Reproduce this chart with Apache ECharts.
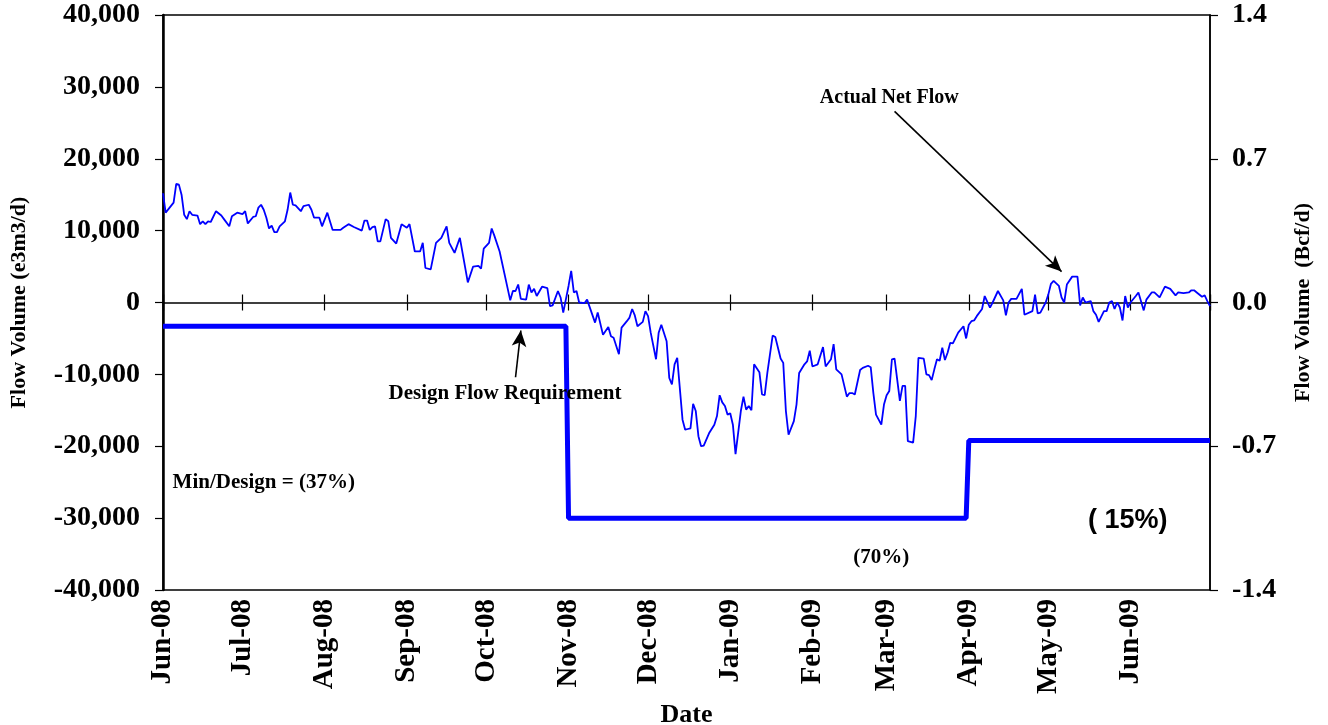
<!DOCTYPE html>
<html>
<head>
<meta charset="utf-8">
<script src="https://cdn.jsdelivr.net/npm/echarts@6/dist/echarts.min.js"></script>
<style>
    html, body { margin: 0; padding: 0; background: #ffffff; }
    #main { width: 1328px; height: 725px; }
</style>
</head>
<body>
<div id="main"></div>
<script>
// actual net flow, e3m3/d - day = days after 1 Jun 2008
var flowDay = [0, 1, 4, 5, 6, 7, 8, 9, 10, 11, 13, 14, 15, 16, 17, 18, 20, 22, 23, 25, 26, 28, 30, 31, 32, 34, 35, 36, 37, 38, 39, 40,
    41, 42, 43, 44, 46, 47, 48, 49, 50, 52, 53, 55, 56, 57, 59, 60, 62, 64, 67, 68, 70, 72, 75, 76, 77, 78, 79, 80, 81, 82, 84, 85, 86,
    88, 90, 92, 93, 95, 97, 98, 99, 101, 103, 105, 107, 108, 110, 112, 115, 117, 119, 120, 121, 123, 124, 125, 127, 130, 131, 132, 133,
    134, 135, 137, 138, 139, 140, 141, 143, 145, 146, 147, 149, 150, 151, 153, 154, 155, 156, 157, 159, 160, 163, 164, 166, 168, 169,
    170, 172, 173, 175, 176, 177, 178, 179, 181, 182, 183, 184, 186, 187, 188, 190, 191, 192, 193, 194, 196, 197, 198, 199, 200, 201,
    202, 203, 204, 206, 208, 209, 210, 211, 212, 213, 214, 215, 216, 218, 219, 220, 221, 222, 223, 225, 226, 227, 228, 230, 231, 233,
    234, 235, 236, 238, 239, 240, 242, 243, 244, 245, 247, 249, 250, 252, 253, 254, 256, 258, 259, 260, 261, 263, 264, 266, 267, 268,
    269, 271, 272, 273, 274, 275, 276, 278, 279, 280, 281, 283, 284, 285, 287, 288, 289, 290, 291, 292, 293, 294, 295, 296, 297, 298,
    300, 302, 303, 304, 305, 306, 307, 309, 310, 312, 313, 315, 317, 318, 319, 320, 322, 324, 325, 328, 329, 330, 331, 333, 334, 335,
    336, 338, 339, 340, 341, 343, 345, 346, 347, 348, 350, 351, 352, 353, 355, 356, 357, 358, 359, 360, 361, 362, 363, 364, 365, 367,
    368, 370, 371, 373, 374, 376, 378, 380, 382, 383, 385, 387, 388, 389, 390, 392, 393, 394, 395];
var flowValue = [15200, 12500, 13900, 16500, 16400, 15000, 12200, 11600, 12700, 12200, 12100, 10900, 11300, 10900, 11300, 11200,
    12700, 12100, 11600, 10600, 12000, 12500, 12300, 12700, 11000, 11900, 12000, 13200, 13600, 12900, 11800, 10300,
    10700, 9800, 9800, 10600, 11300, 12900, 15300, 13600, 13500, 12700, 13400, 13600, 12900, 11800, 11800, 10600, 12500, 10100,
    10100, 10400, 10900, 10500, 10000, 11400, 11400, 10100, 10500, 10600, 8500, 8500, 11600, 11300, 9000,
    8200, 10900, 10400, 10900, 7100, 7100, 8300, 4800, 4600, 8300, 9000, 10600, 8300, 6900, 9000, 2800, 5000, 5100, 4700, 7500,
    8300, 10300, 9300, 7100, 2000, 300, 1600, 1600,
    2500, 500, 400, 2500, 1400, 1900, 900, 2200, 2000, -500, -400, 1600, 700, -1400, 2300, 4400, 1400, 1600, 0, -100, 400, -2800,
    -1400, -4500, -3400, -4700,
    -4900, -7200, -3500, -2600, -2100, -900, -1800, -3300, -2700, -1200, -1900, -4200, -7900, -4200, -3100, -5400, -10500, -11400,
    -8600, -7700, -16300, -17700, -17600, -17500, -14100, -15100,
    -18600, -20000, -19900, -18200, -17000, -15800, -12900, -13900, -14400, -15600, -15400, -17000, -21100, -15100, -13100, -14900,
    -14400, -15000, -8600, -9700, -12800, -12900, -9800, -4600, -4800, -7800,
    -8400, -15100, -18400, -16500, -14200, -9800, -8600, -8200, -6700, -8900, -8600, -6200, -8900, -7900, -5800, -9300, -10000,
    -13100, -12600, -12600, -12800, -9400, -9100, -8800, -9000, -12600,
    -15600, -17000, -14200, -12900, -12300, -7900, -7800, -13700, -11600, -11600, -19300, -19500, -15800, -7700, -7800, -10000,
    -10100, -10800, -9300, -7900, -8100, -6300, -8000, -7000, -5600, -5700,
    -4200, -3300, -5000, -3100, -2600, -2500, -1900, -900, 900, -700, 0, 1600, 300, -1800, 0, 500, 500, 1900, -1700, -1200, 1100,
    -1500, -1400, 0, 1100, 2600,
    3000, 2300, 700, 0, 2500, 3600, 3600, -400, 700, 0, 200, -1200, -1700, -2700, -1200, -1200, 0, 200, -900, 0, -700, -2500, 900,
    -700, 0, 900,
    1400, -1100, 400, 1400, 1400, 700, 2200, 1900, 1000, 1400, 1300, 1400, 1700, 1700, 1400, 800, 1000, 200, -500];

// design flow requirement (step line)
var designDate = ['2008-06-01', '2008-10-31', '2008-11-01', '2009-03-31', '2009-04-01', '2009-07-01'];
var designValue = [-3300, -3300, -30000, -30000, -19200, -19200];

var monthNames = ['Jan', 'Feb', 'Mar', 'Apr', 'May', 'Jun', 'Jul', 'Aug', 'Sep', 'Oct', 'Nov', 'Dec'];
var lastMonth = new Date(2009, 6, 1).getTime(); // no label at the right edge

var serifFont = 'Liberation Serif';
var blue = '#0000ff';

var flowData = [];
for (var i = 0; i < flowDay.length; i++) {
    flowData.push([new Date(2008, 5, 1 + flowDay[i]).getTime(), flowValue[i]]);
}
var designData = [];
for (var j = 0; j < designDate.length; j++) {
    designData.push([designDate[j], designValue[j]]);
}

function textLabel(coord, text, size, family) {
    return {
        coord: coord,
        label: {
            show: true,
            position: 'inside',
            formatter: text,
            color: '#000',
            fontWeight: 'bold',
            fontSize: size,
            fontFamily: family || serifFont
        }
    };
}

var myChart = echarts.init(document.getElementById('main'), null, { renderer: 'canvas' });

var timeAxisBase = {
    type: 'time',
    min: '2008-06-01',
    max: '2009-07-01',
    splitNumber: 13,
    minInterval: 28 * 86400000,
    maxInterval: 31 * 86400000,
    splitLine: { show: false }
};

var option = {
    animation: false,
    backgroundColor: '#ffffff',
    grid: {
        left: 163,
        right: 118,
        top: 15,
        bottom: 135,
        containLabel: false,
        outerBoundsMode: 'none',
        show: true,
        borderColor: '#000',
        borderWidth: 1.5,
        backgroundColor: 'transparent'
    },
    xAxis: [
        // zero line with ticks below
        Object.assign({}, timeAxisBase, {
            position: 'bottom',
            axisLine: { show: true, onZero: true, lineStyle: { color: '#000', width: 1.5 } },
            axisTick: { show: true, length: 8, lineStyle: { color: '#000', width: 1.2 } },
            axisLabel: { show: false }
        }),
        // ticks above zero line
        Object.assign({}, timeAxisBase, {
            position: 'bottom',
            axisLine: { show: false, onZero: true },
            axisTick: { show: true, inside: true, length: 8, lineStyle: { color: '#000', width: 1.2 } },
            axisLabel: { show: false }
        }),
        // month labels at the bottom
        Object.assign({}, timeAxisBase, {
            position: 'bottom',
            name: 'Date',
            nameLocation: 'middle',
            nameGap: 108,
            nameTextStyle: { color: '#000', fontWeight: 'bold', fontSize: 26, fontFamily: serifFont },
            axisLine: { show: false, onZero: false },
            axisTick: { show: false },
            axisLabel: {
                show: true,
                rotate: 90,
                margin: 9,
                showMinLabel: true,
                color: '#000',
                fontWeight: 'bold',
                fontSize: 29,
                fontFamily: serifFont,
                formatter: function (val) {
                    var d = new Date(val);
                    if (d.getDate() !== 1 || val >= lastMonth) {
                        return '';
                    }
                    return monthNames[d.getMonth()] + '-' + String(d.getFullYear()).slice(2);
                }
            }
        })
    ],
    yAxis: [{
        type: 'value',
        position: 'left',
        min: -40000,
        max: 40000,
        interval: 10000,
        name: 'Flow Volume (e3m3/d)',
        nameLocation: 'middle',
        nameGap: 133,
        nameTextStyle: { color: '#000', fontWeight: 'bold', fontSize: 22, fontFamily: serifFont },
        axisLine: { show: true, lineStyle: { color: '#000', width: 2.5 } },
        axisTick: { show: true, length: 8, lineStyle: { color: '#000', width: 1.2 } },
        axisLabel: {
            margin: 23,
            color: '#000',
            fontWeight: 'bold',
            fontSize: 28,
            fontFamily: serifFont,
            formatter: function (v) {
                return v.toLocaleString('en-US');
            }
        },
        splitLine: { show: false }
    }, {
        type: 'value',
        position: 'right',
        min: -1.4,
        max: 1.4,
        interval: 0.7,
        name: 'Flow Volume  (Bcf/d)',
        nameLocation: 'middle',
        nameGap: 82,
        nameRotate: 90,
        nameTextStyle: { color: '#000', fontWeight: 'bold', fontSize: 22, fontFamily: serifFont },
        axisLine: { show: true, lineStyle: { color: '#000', width: 1.5 } },
        axisTick: { show: true, length: 8, lineStyle: { color: '#000', width: 1.2 } },
        axisLabel: {
            margin: 22,
            color: '#000',
            fontWeight: 'bold',
            fontSize: 28,
            fontFamily: serifFont,
            formatter: function (v) {
                return v.toFixed(1);
            }
        },
        splitLine: { show: false }
    }],
    series: [{
        name: 'Design Flow Requirement',
        type: 'line',
        xAxisIndex: 0,
        yAxisIndex: 0,
        data: designData,
        showSymbol: false,
        symbol: 'none',
        lineStyle: { color: blue, width: 5 },
        z: 2
    }, {
        name: 'Actual Net Flow',
        type: 'line',
        xAxisIndex: 0,
        yAxisIndex: 0,
        data: flowData,
        showSymbol: false,
        symbol: 'none',
        lineStyle: { color: blue, width: 1.8 },
        z: 3,
        markLine: {
            silent: true,
            symbol: ['none', 'arrow'],
            symbolSize: [11, 16],
            label: { show: false },
            lineStyle: { color: '#000', width: 1.6, type: 'solid' },
            data: [
                [{ coord: ['2009-03-04', 26600] }, { coord: ['2009-05-06', 4300] }],
                [{ coord: ['2008-10-12', -10400] }, { coord: ['2008-10-14', -3900] }]
            ]
        },
        markPoint: {
            silent: true,
            symbol: 'rect',
            symbolSize: 1,
            itemStyle: { color: 'rgba(0,0,0,0)' },
            data: [
                textLabel(['2009-03-02', 28500], 'Actual Net Flow', 20),
                textLabel(['2008-10-08', -12650], 'Design Flow Requirement', 21),
                textLabel(['2008-07-09', -25000], 'Min/Design = (37%)', 21),
                textLabel(['2009-05-31', -30400], '( 15%)', 27, 'Liberation Sans'),
                textLabel(['2009-02-27', -35450], '(70%)', 21)
            ]
        }
    }]
};

myChart.setOption(option);
</script>
</body>
</html>
